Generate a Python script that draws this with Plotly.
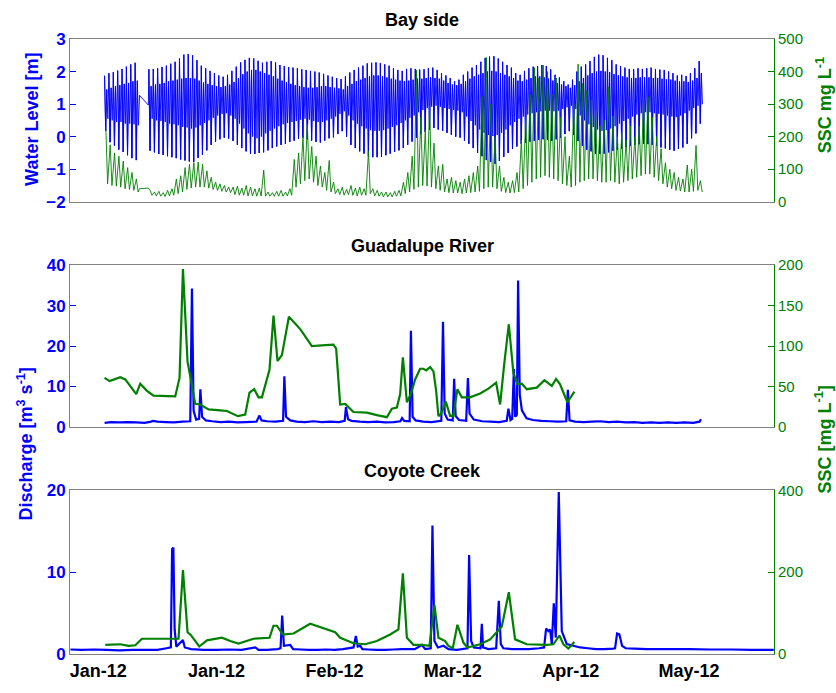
import pandas as pd
import plotly.graph_objects as go

BASE = pd.Timestamp("2012-01-01")
TIDAL_DAY = 1.035

BLUE = "#0000ff"
GREEN = "#008000"
BOX = "#808080"
FONT = "Liberation Sans, Arial, sans-serif"

# ---------------- Bay side: tidal extremes per tidal day ----------------
# Segment 1 (before the record gap)
bay1_start = 1.49
bay1_hh = [1.87, 1.95, 1.98, 2.03, 2.08, 2.15, 2.22, 2.27]
bay1_ll = [0.18, -0.17, -0.27, -0.40, -0.47, -0.57, -0.66, -0.72]
bay1_lh = [1.45, 1.50, 1.55, 1.58, 1.62, 1.65, 1.70, 1.72]
bay1_hl = [0.55, 0.50, 0.45, 0.45, 0.40, 0.40, 0.38, 0.35]
bay1_ssc_peak = [230, 175, 150, 140, 125, 105, 90, 70]
bay1_ssc_base = [55, 50, 48, 45, 40, 38, 35, 30]

# Record gap
bay_gap_days = [9.78, 11.87]
bay_gap_wl = [1.27, 0.97]
bay_gap_ssc = [40, 42]

# Segment 2
bay2_start = 12.0
bay2_hh = [
    2.07, 2.08, 2.10, 2.14, 2.18, 2.24, 2.30, 2.40, 2.52, 2.54,
    2.50, 2.35, 2.18, 2.10, 2.02, 1.95, 1.88, 1.84, 1.90, 2.02,
    2.15, 2.28, 2.36, 2.42, 2.40, 2.33, 2.27, 2.30, 2.32, 2.28,
    2.20, 2.17, 2.14, 2.12, 2.10, 2.07, 2.05, 2.02, 2.00, 1.97,
    1.93, 1.88, 1.84, 1.80, 1.77, 1.85, 1.97, 2.05, 2.12, 2.18,
    2.25, 2.27, 2.28, 2.26, 2.22, 2.18, 2.10, 2.05, 2.02, 2.08,
    2.10, 2.08, 2.06, 2.07, 2.10, 2.12, 2.05, 1.95, 1.88, 1.80,
    1.70, 1.75, 1.90, 2.00, 2.12, 2.20, 2.30, 2.42, 2.46, 2.47,
    2.40, 2.30, 2.20, 2.12, 1.95, 1.90, 2.02, 2.10, 2.15, 2.17,
    2.20, 2.17, 2.07, 1.90, 1.82, 1.70, 1.60, 1.75, 2.00, 2.15,
    2.22, 2.32, 2.45, 2.52, 2.50, 2.42, 2.35, 2.22, 2.17, 2.12,
    2.08, 2.07, 2.10, 2.08, 2.10, 2.12, 2.08, 2.06, 2.05, 2.00,
    1.95, 1.88, 1.90, 1.86, 1.95, 2.10, 2.32,
]
bay2_ll = [
    -0.43, -0.48, -0.53, -0.56, -0.60, -0.63, -0.66, -0.70, -0.73, -0.76,
    -0.78, -0.65, -0.55, -0.42, -0.25, -0.15, -0.08, -0.03, -0.06, -0.13,
    -0.25, -0.35, -0.45, -0.52, -0.53, -0.50, -0.48, -0.42, -0.35, -0.30,
    -0.25, -0.22, -0.16, -0.12, -0.06, -0.03, -0.08, -0.12, -0.16, -0.18,
    -0.12, -0.05, -0.02, 0.08, 0.17, 0.00, -0.25, -0.35, -0.45, -0.52,
    -0.60, -0.63, -0.63, -0.62, -0.57, -0.52, -0.47, -0.42, -0.35, -0.25,
    -0.15, -0.03, 0.08, 0.15, 0.22, 0.27, 0.22, 0.18, 0.12, 0.06,
    0.00, -0.03, -0.12, -0.22, -0.35, -0.50, -0.60, -0.72, -0.78, -0.83,
    -0.75, -0.62, -0.50, -0.38, -0.30, -0.22, -0.18, -0.15, -0.13, -0.10,
    -0.08, -0.10, -0.13, -0.08, -0.03, 0.08, 0.17, 0.05, -0.13, -0.28,
    -0.40, -0.45, -0.52, -0.53, -0.52, -0.48, -0.43, -0.40, -0.37, -0.32,
    -0.28, -0.25, -0.23, -0.22, -0.23, -0.25, -0.28, -0.33, -0.36, -0.40,
    -0.43, -0.38, -0.33, -0.22, -0.05, 0.10, 0.40,
]
bay2_lh = [
    1.55, 1.60, 1.62, 1.65, 1.70, 1.72, 1.75, 1.78, 1.80, 1.80,
    1.78, 1.72, 1.66, 1.62, 1.58, 1.55, 1.52, 1.55, 1.60, 1.68,
    1.80, 1.92, 2.00, 2.05, 2.05, 2.00, 1.95, 1.90, 1.85, 1.78,
    1.72, 1.68, 1.62, 1.58, 1.55, 1.52, 1.50, 1.50, 1.52, 1.55,
    1.55, 1.52, 1.50, 1.48, 1.45, 1.55, 1.62, 1.70, 1.75, 1.80,
    1.85, 1.88, 1.88, 1.85, 1.82, 1.78, 1.75, 1.72, 1.70, 1.72,
    1.75, 1.78, 1.78, 1.80, 1.82, 1.80, 1.78, 1.72, 1.65, 1.60,
    1.58, 1.62, 1.70, 1.78, 1.85, 1.90, 1.95, 2.00, 2.02, 2.00,
    1.95, 1.90, 1.85, 1.80, 1.72, 1.70, 1.75, 1.80, 1.85, 1.85,
    1.82, 1.78, 1.72, 1.65, 1.60, 1.55, 1.50, 1.58, 1.70, 1.80,
    1.88, 1.95, 2.00, 2.02, 2.00, 1.98, 1.92, 1.88, 1.85, 1.82,
    1.80, 1.80, 1.82, 1.82, 1.82, 1.80, 1.80, 1.78, 1.76, 1.75,
    1.72, 1.70, 1.70, 1.68, 1.72, 1.80, 1.95,
]
bay2_hl = [
    0.55, 0.50, 0.48, 0.45, 0.40, 0.38, 0.35, 0.30, 0.28, 0.25,
    0.28, 0.35, 0.42, 0.50, 0.58, 0.65, 0.70, 0.72, 0.65, 0.55,
    0.40, 0.25, 0.10, 0.00, -0.05, 0.00, 0.10, 0.18, 0.25, 0.32,
    0.38, 0.42, 0.45, 0.48, 0.52, 0.55, 0.52, 0.48, 0.45, 0.45,
    0.50, 0.55, 0.62, 0.70, 0.78, 0.65, 0.50, 0.40, 0.32, 0.25,
    0.20, 0.18, 0.18, 0.20, 0.25, 0.30, 0.35, 0.42, 0.50, 0.58,
    0.65, 0.75, 0.82, 0.88, 0.92, 0.95, 0.92, 0.88, 0.85, 0.82,
    0.80, 0.75, 0.62, 0.48, 0.35, 0.22, 0.12, 0.05, 0.02, 0.05,
    0.12, 0.22, 0.35, 0.45, 0.55, 0.62, 0.68, 0.72, 0.75, 0.78,
    0.80, 0.80, 0.78, 0.80, 0.85, 0.90, 0.95, 0.85, 0.65, 0.50,
    0.38, 0.30, 0.22, 0.18, 0.20, 0.25, 0.32, 0.40, 0.48, 0.55,
    0.62, 0.68, 0.72, 0.75, 0.75, 0.72, 0.70, 0.68, 0.65, 0.62,
    0.60, 0.65, 0.72, 0.80, 0.88, 0.95, 1.00,
]
bay2_ssc_peak = [
    35, 30, 32, 28, 35, 40, 70, 80, 105, 115,
    120, 122, 115, 95, 75, 60, 55, 50, 45, 45,
    48, 42, 50, 45, 40, 42, 97, 30, 28, 32,
    35, 30, 40, 130, 150, 200, 237, 170, 140, 110,
    90, 127, 60, 40, 45, 38, 50, 42, 45, 40,
    155, 40, 35, 30, 30, 28, 32, 35, 60, 90,
    140, 405, 260, 220, 295, 180, 110, 115, 70, 75,
    65, 60, 70, 80, 90, 110, 323, 443, 300, 200,
    110, 75, 60, 65, 90, 190, 260, 330, 412, 380,
    420, 400, 330, 380, 260, 200, 140, 300, 423, 363,
    343, 313, 283, 233, 250, 353, 263, 200, 213, 190,
    233, 200, 233, 313, 323, 260, 200, 163, 120, 100,
    90, 75, 70, 113, 100, 173, 65,
]
bay2_ssc_base = [
    20, 18, 17, 16, 18, 20, 25, 30, 38, 42,
    45, 45, 45, 42, 38, 35, 32, 30, 28, 22,
    20, 20, 18, 18, 17, 17, 17, 17, 17, 17,
    17, 18, 20, 45, 55, 65, 70, 60, 50, 45,
    35, 30, 25, 22, 20, 22, 20, 18, 20, 20,
    25, 18, 17, 15, 15, 15, 17, 18, 25, 30,
    38, 45, 50, 48, 45, 40, 35, 30, 28, 27,
    27, 25, 27, 28, 30, 32, 40, 45, 45, 40,
    32, 28, 27, 28, 30, 40, 50, 60, 70, 75,
    80, 75, 70, 65, 55, 50, 45, 50, 60, 65,
    70, 70, 65, 60, 60, 65, 60, 55, 60, 65,
    70, 75, 80, 85, 85, 75, 65, 55, 45, 40,
    35, 33, 30, 30, 32, 35, 30,
]

# ---------------- Guadalupe River ----------------
gua_q_days = [
    1.5, 3.0, 5.0, 7.0, 9.0, 11.0, 12.5, 13.0, 14.0, 16.0, 18.0, 20.0,
    21.8, 22.2, 22.6, 23.2, 23.9, 24.2, 24.6, 25.5, 27.0, 29.0, 31.0, 33.0,
    35.0, 37.5, 38.2, 38.7, 40.0, 42.0, 43.8, 44.1, 44.5, 45.5, 47.0, 49.0,
    51.0, 53.0, 55.0, 57.0, 58.4, 58.7, 59.2, 60.0, 62.0, 64.0, 66.0, 68.0,
    70.0, 71.6, 72.0, 72.5, 73.8, 74.1, 74.5, 75.2, 77.0, 79.0, 81.3, 81.7,
    82.1, 82.8, 84.0, 84.35, 84.7, 85.5, 87.2, 87.6, 88.0, 89.0, 91.0, 93.0,
    95.0, 96.8, 97.2, 97.7, 98.1, 98.5, 98.8, 99.2, 99.5, 99.9, 100.4, 101.5,
    103.0, 105.0, 107.0, 109.0, 110.9, 111.3, 111.7, 113.0, 115.0, 117.0, 119.0, 121.0,
    123.0, 125.0, 127.0, 129.0, 131.0, 133.0, 135.0, 137.0, 139.0, 141.0, 142.5, 142.86,
]
gua_q = [
    1.0, 1.2, 1.1, 1.2, 1.1, 1.0, 1.3, 1.5, 1.3, 1.2, 1.1, 1.3,
    1.4, 34.2, 4.0, 1.8, 2.0, 9.3, 2.5, 1.6, 1.4, 1.2, 1.3, 1.1,
    1.2, 1.3, 2.8, 1.6, 1.4, 1.3, 1.5, 12.5, 2.5, 1.6, 1.3, 1.2,
    1.4, 1.2, 1.3, 1.2, 1.5, 4.9, 1.9, 1.5, 1.3, 1.2, 1.3, 1.1,
    1.2, 1.4, 2.2, 1.5, 1.4, 23.8, 2.5, 1.6, 1.3, 1.2, 1.5, 26.0,
    3.3, 1.8, 1.6, 11.9, 2.7, 1.7, 1.5, 12.1, 3.3, 1.8, 1.4, 1.3,
    1.2, 1.5, 4.5, 1.7, 2.0, 14.3, 2.5, 3.0, 36.2, 8.0, 4.1, 2.1,
    1.7, 1.5, 1.4, 1.3, 1.4, 9.2, 1.6, 1.3, 1.2, 1.3, 1.4, 1.2,
    1.3, 1.1, 1.2, 1.0, 1.1, 1.0, 1.1, 1.0, 1.1, 1.0, 1.3, 1.9,
]
gua_ssc_days = [
    1.49, 2.68, 5.21, 6.40, 9.00, 9.95, 11.54, 13.10, 18.24, 19.26, 20.07, 21.16,
    22.98, 24.16, 26.13, 28.90, 30.49, 33.10, 34.83, 35.84, 36.96, 37.98, 38.78, 40.58,
    41.53, 42.48, 43.52, 45.18, 47.86, 50.63, 53.00, 55.74, 56.38, 57.33, 58.52, 60.48,
    63.66, 66.03, 68.40, 69.58, 70.77, 71.55, 72.19, 73.14, 74.08, 75.10, 76.28, 77.07,
    77.71, 78.65, 79.44, 80.08, 80.62, 81.26, 82.37, 83.39, 84.17, 85.12, 86.16, 88.13,
    90.50, 92.47, 94.29, 95.24, 96.19, 97.30, 98.39, 99.34, 100.38, 101.56, 103.93, 105.73,
    107.49, 108.50, 109.45, 111.18, 112.84,
]
gua_ssc = [
    60.6, 56.6, 61.4, 58.7, 40.6, 53.4, 44.6, 38.6, 37.7, 60.6, 195.2, 80.7,
    28.5, 27.7, 21.7, 20.5, 19.7, 13.3, 15.3, 42.5, 46.6, 36.5, 36.5, 70.7,
    137.7, 81.5, 88.8, 136.1, 120.9, 100.0, 100.8, 101.6, 96.7, 27.7, 28.5, 18.4,
    17.7, 14.5, 12.0, 22.5, 24.0, 40.6, 86.0, 30.5, 40.6, 58.7, 71.9, 71.9,
    69.9, 73.9, 68.7, 44.6, 13.3, 16.5, 31.3, 13.6, 13.6, 46.6, 36.5, 36.5,
    41.3, 47.3, 54.6, 27.7, 76.7, 126.9, 66.6, 52.7, 53.4, 46.6, 48.6, 57.8,
    50.6, 59.4, 52.7, 30.5, 43.7,
]

# ---------------- Coyote Creek ----------------
coy_q_days = [
    -6.6, -4.0, -1.0, 2.0, 5.0, 8.0, 11.0, 14.0, 16.2, 17.2, 17.5, 17.8,
    18.1, 18.5, 20.07, 20.5, 22.0, 25.0, 28.0, 31.0, 34.0, 37.2, 38.0, 40.0,
    42.5, 43.2, 43.59, 44.0, 45.49, 46.2, 48.0, 50.0, 52.0, 54.0, 56.0, 58.0,
    60.5, 61.05, 61.5, 62.1, 62.6, 64.0, 66.0, 68.0, 70.0, 72.0, 75.0, 76.69,
    77.5, 78.8, 79.2, 79.67, 80.5, 81.8, 83.0, 85.0, 87.5, 87.89, 88.37, 89.0,
    90.6, 90.9, 91.2, 92.5, 94.3, 94.93, 95.4, 96.0, 98.0, 100.0, 102.0, 104.5,
    105.66, 106.14, 106.68, 107.08, 107.49, 107.96, 108.43, 109.14, 109.85, 111.04, 114.19, 116.0,
    118.0, 120.0, 122.0, 122.48, 122.96, 123.5, 124.14, 125.0, 127.0, 130.0, 135.0, 140.0,
    145.0, 150.0, 155.0, 160.1,
]
coy_q = [
    0.55, 0.5, 0.55, 0.5, 0.45, 0.5, 0.5, 0.5, 0.7, 0.8, 12.8, 13.0,
    3.0, 0.9, 1.7, 0.8, 0.6, 0.5, 0.5, 0.55, 0.5, 0.8, 0.5, 0.5,
    0.6, 0.7, 4.7, 1.0, 1.1, 0.6, 0.55, 0.5, 0.5, 0.55, 0.5, 0.6,
    0.8, 2.2, 0.9, 1.0, 0.6, 0.55, 0.5, 0.5, 0.55, 0.6, 0.6, 1.1,
    0.6, 0.7, 15.7, 1.6, 0.8, 1.0, 0.6, 0.5, 0.7, 12.1, 1.6, 0.8,
    0.7, 3.7, 0.8, 0.6, 0.7, 6.5, 1.2, 0.7, 0.6, 0.6, 0.6, 0.7,
    0.8, 3.1, 2.8, 3.0, 1.2, 6.2, 2.0, 19.8, 2.8, 1.2, 0.8, 0.7,
    0.6, 0.6, 0.65, 0.7, 2.5, 2.4, 1.0, 0.7, 0.65, 0.6, 0.6, 0.6,
    0.55, 0.55, 0.5, 0.5,
]
coy_ssc_days = [
    1.66, 5.21, 7.18, 8.77, 10.35, 11.54, 19.02, 20.07, 21.16, 21.96, 23.93, 25.75,
    29.31, 31.27, 33.24, 36.79, 40.58, 41.53, 42.34, 43.76, 46.27, 50.22, 56.15, 57.33,
    60.48, 63.25, 66.03, 69.18, 71.14, 72.19, 73.14, 74.70, 76.69, 78.49, 79.67, 80.62,
    82.21, 82.99, 84.03, 85.12, 86.54, 87.49, 90.50, 92.87, 95.64, 97.30, 98.79, 101.56,
    106.30, 107.87, 109.29, 110.24, 111.42, 112.84,
]
coy_ssc = [
    22.2, 23.8, 19.8, 21.4, 37.3, 37.3, 37.3, 204.8, 53.2, 46.0, 18.3, 33.3,
    39.7, 31.7, 25.5, 37.3, 39.7, 69.0, 69.0, 47.6, 50.0, 73.8, 53.2, 39.7,
    26.2, 23.8, 31.7, 47.6, 60.0, 196.9, 39.7, 22.5, 22.2, 19.8, 120.7, 39.7,
    31.7, 19.8, 14.3, 71.4, 27.8, 15.9, 23.8, 35.7, 67.5, 150.8, 35.7, 23.8,
    22.2, 23.8, 45.2, 23.8, 13.5, 29.4,
]

# ---------------- Axis settings ----------------
x_range_days = [-6.7, 160.15]
tick_days = [0, 28, 56, 84, 112, 140]
tick_labels = ["Jan-12", "Jan-12", "Feb-12", "Mar-12", "Apr-12", "May-12"]


def to_dates(days):
    """Day offsets from 1 Jan 2012 -> ISO timestamp strings (None kept as a gap)."""
    out = []
    for d in days:
        if d is None:
            out.append(None)
        else:
            out.append((BASE + pd.Timedelta(days=float(d))).strftime("%Y-%m-%d %H:%M:%S"))
    return out


def tide_series(start, hh, ll, lh, hl):
    t, v = [], []
    for k in range(len(hh)):
        t0 = start + k * TIDAL_DAY
        t += [t0, t0 + 0.27, t0 + 0.52, t0 + 0.78]
        v += [hh[k], ll[k], lh[k], hl[k]]
    return t, v


def low_water_strokes(start, hh, ll, lh):
    """High -> lower-low -> next high, as separate short strokes."""
    t, v = [], []
    for k in range(len(hh)):
        t0 = start + k * TIDAL_DAY
        t += [t0, t0 + 0.27, t0 + 0.52, None]
        v += [hh[k], ll[k], lh[k], None]
    return t, v


def ssc_series(start, peak, base):
    t, v = [], []
    for k in range(len(peak)):
        t0 = start + k * TIDAL_DAY
        t += [t0 + 0.30, t0 + 0.72]
        v += [peak[k], base[k]]
    return t, v


t1, w1 = tide_series(bay1_start, bay1_hh, bay1_ll, bay1_lh, bay1_hl)
t2, w2 = tide_series(bay2_start, bay2_hh, bay2_ll, bay2_lh, bay2_hl)
bay_wl_days = t1 + bay_gap_days + t2
bay_wl = w1 + bay_gap_wl + w2

u1, l1 = low_water_strokes(bay1_start, bay1_hh, bay1_ll, bay1_lh)
u2, l2 = low_water_strokes(bay2_start, bay2_hh, bay2_ll, bay2_lh)
bay_low_days = u1 + u2
bay_low = l1 + l2

s1, c1 = ssc_series(bay1_start, bay1_ssc_peak, bay1_ssc_base)
s2, c2 = ssc_series(bay2_start, bay2_ssc_peak, bay2_ssc_base)
bay_ssc_days = s1 + bay_gap_days + s2
bay_ssc = c1 + bay_gap_ssc + c2


def line(color, width):
    return dict(color=color, width=width, simplify=False, shape="linear")


fig = go.Figure()
fig.add_trace(go.Scatter(x=to_dates(bay_wl_days), y=bay_wl, mode="lines",
                         line=line(BLUE, 0.9), xaxis="x", yaxis="y"))
fig.add_trace(go.Scatter(x=to_dates(bay_low_days), y=bay_low, mode="lines",
                         connectgaps=False, line=line(BLUE, 0.9), xaxis="x", yaxis="y"))
fig.add_trace(go.Scatter(x=to_dates(bay_ssc_days), y=bay_ssc, mode="lines",
                         line=line(GREEN, 0.9), xaxis="x", yaxis="y2"))
fig.add_trace(go.Scatter(x=to_dates(gua_q_days), y=gua_q, mode="lines",
                         line=line(BLUE, 2.2), xaxis="x2", yaxis="y3"))
fig.add_trace(go.Scatter(x=to_dates(gua_ssc_days), y=gua_ssc, mode="lines",
                         line=line(GREEN, 2.2), xaxis="x2", yaxis="y4"))
fig.add_trace(go.Scatter(x=to_dates(coy_q_days), y=coy_q, mode="lines",
                         line=line(BLUE, 2.2), xaxis="x3", yaxis="y5"))
fig.add_trace(go.Scatter(x=to_dates(coy_ssc_days), y=coy_ssc, mode="lines",
                         line=line(GREEN, 2.2), xaxis="x3", yaxis="y6"))

x_range = to_dates(x_range_days)
tick_vals = to_dates(tick_days)


def x_axis(anchor, labels):
    return dict(type="date", range=x_range, anchor=anchor, domain=[0, 1],
                showline=True, linecolor=BOX, linewidth=1, mirror=True,
                showgrid=False, zeroline=False, ticks="",
                tickvals=tick_vals, ticktext=tick_labels, showticklabels=labels,
                tickfont=dict(family=FONT, size=18, color="black", weight="bold"))


def left_axis(domain, rng, vals, anchor):
    return dict(domain=domain, range=rng, tickvals=vals, anchor=anchor,
                showline=True, linecolor=BOX, linewidth=1,
                ticks="inside", ticklen=6, tickcolor=BLUE,
                showgrid=False, zeroline=False,
                tickfont=dict(family=FONT, size=17, color=BLUE, weight="bold"))


def right_axis(over, rng, vals, anchor):
    return dict(overlaying=over, side="right", range=rng, tickvals=vals, anchor=anchor,
                showline=True, linecolor=GREEN, linewidth=1,
                ticks="inside", ticklen=6, tickcolor=GREEN,
                showgrid=False, zeroline=False,
                tickfont=dict(family=FONT, size=15, color=GREEN))


L, R, T, B = 70, 62, 39, 23
W, H = 836, 693
PW, PH = W - L - R, H - T - B


def px_x(px):
    return (px - L) / PW


def px_y(py):
    return (H - B - py) / PH


fig.update_layout(
    width=W, height=H,
    margin=dict(l=L, r=R, t=T, b=B),
    paper_bgcolor="white", plot_bgcolor="white",
    showlegend=False,
    font=dict(family=FONT),
    xaxis=x_axis("y", False),
    xaxis2=x_axis("y3", False),
    xaxis3=x_axis("y5", True),
    yaxis=left_axis([px_y(206), 1.0], [-2, 3], [-2, -1, 0, 1, 2, 3], "x"),
    yaxis2=right_axis("y", [0, 500], [0, 100, 200, 300, 400, 500], "x"),
    yaxis3=left_axis([px_y(437), px_y(271)], [0, 40], [0, 10, 20, 30, 40], "x2"),
    yaxis4=right_axis("y3", [0, 200], [0, 50, 100, 150, 200], "x2"),
    yaxis5=left_axis([0.0, px_y(502)], [0, 20], [0, 10, 20], "x3"),
    yaxis6=right_axis("y5", [0, 400], [0, 200, 400], "x3"),
)

title_font = dict(family=FONT, size=18, color="black", weight="bold")
blue_font = dict(family=FONT, size=18, color=BLUE, weight="bold")
green_font = dict(family=FONT, size=18, color=GREEN, weight="bold")

annotations = [
    dict(text="Bay side", x=px_x(422), y=px_y(20), font=title_font),
    dict(text="Guadalupe River", x=px_x(422), y=px_y(251), font=title_font),
    dict(text="Coyote Creek", x=px_x(422), y=px_y(482), font=title_font),
    dict(text="Water Level [m]", x=px_x(32), y=px_y(122), font=blue_font, textangle=-90),
    dict(text="SSC mg L<sup>-1</sup>", x=px_x(824), y=px_y(107), font=green_font, textangle=-90),
    dict(text="Discharge [m<sup>3</sup> s<sup>-1</sup>]", x=px_x(25), y=px_y(455),
         font=blue_font, textangle=-90),
    dict(text="SSC [mg L<sup>-1</sup>]", x=px_x(824), y=px_y(450), font=green_font, textangle=-90),
]
for a in annotations:
    a.update(xref="paper", yref="paper", showarrow=False, xanchor="center", yanchor="middle")
fig.update_layout(annotations=annotations)

fig.write_html("out.html")
